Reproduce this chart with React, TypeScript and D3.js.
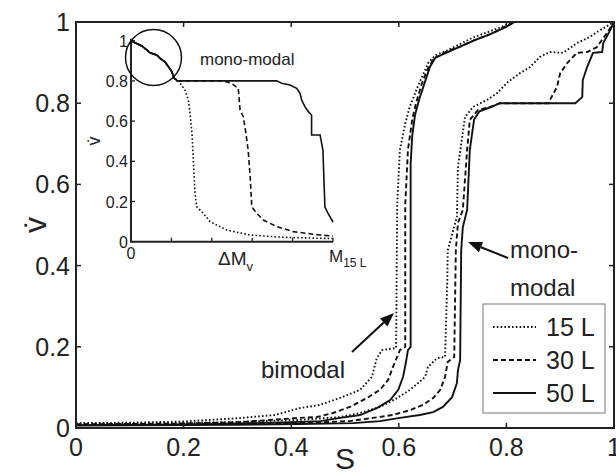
import * as d3 from "d3";
import { useEffect, useRef } from "react";

// main plot curves, [S, v]
const biDot15 = [[0,0.012],[0.1,0.013],[0.2,0.016],[0.3,0.024],[0.37,0.032],[0.416,0.049],[0.454,0.057],[0.491,0.074],[0.528,0.094],[0.55,0.126],[0.559,0.172],[0.569,0.192],[0.595,0.197],[0.597,0.55],[0.602,0.685],[0.612,0.75],[0.62,0.79],[0.635,0.84],[0.645,0.87],[0.655,0.9],[0.668,0.918],[0.69,0.93],[0.71,0.943],[0.735,0.96],[0.765,0.975],[0.795,0.99],[0.81,1]];
const biDash30 = [[0,0.009],[0.2,0.011],[0.3,0.014],[0.416,0.025],[0.448,0.027],[0.478,0.037],[0.509,0.052],[0.541,0.074],[0.565,0.094],[0.58,0.118],[0.589,0.15],[0.602,0.192],[0.612,0.2],[0.612,0.55],[0.617,0.685],[0.625,0.76],[0.632,0.8],[0.642,0.845],[0.652,0.88],[0.665,0.91],[0.69,0.928],[0.715,0.94],[0.74,0.955],[0.77,0.97],[0.8,0.99],[0.815,1]];
const biSolid50 = [[0,0.007],[0.2,0.009],[0.3,0.011],[0.416,0.015],[0.454,0.017],[0.491,0.025],[0.528,0.032],[0.559,0.049],[0.584,0.069],[0.599,0.094],[0.608,0.126],[0.613,0.16],[0.617,0.192],[0.622,0.2],[0.622,0.65],[0.625,0.72],[0.63,0.77],[0.638,0.81],[0.648,0.85],[0.658,0.89],[0.668,0.912],[0.69,0.925],[0.715,0.94],[0.74,0.955],[0.77,0.97],[0.8,0.988],[0.815,1]];
const monoDot15 = [[0,0.01],[0.2,0.012],[0.3,0.015],[0.416,0.02],[0.491,0.027],[0.528,0.037],[0.565,0.052],[0.597,0.074],[0.621,0.094],[0.636,0.111],[0.649,0.126],[0.654,0.15],[0.671,0.172],[0.686,0.175],[0.69,0.357],[0.691,0.438],[0.708,0.52],[0.71,0.643],[0.717,0.709],[0.723,0.766],[0.738,0.791],[0.764,0.808],[0.783,0.825],[0.801,0.85],[0.825,0.874],[0.844,0.889],[0.862,0.914],[0.881,0.926],[0.905,0.924],[0.931,0.948],[0.955,0.963],[0.974,0.98],[1,1]];
const monoDash30 = [[0,0.008],[0.2,0.009],[0.3,0.01],[0.416,0.012],[0.509,0.017],[0.552,0.025],[0.589,0.032],[0.621,0.044],[0.645,0.057],[0.664,0.074],[0.677,0.094],[0.686,0.126],[0.691,0.163],[0.703,0.175],[0.706,0.438],[0.71,0.505],[0.719,0.537],[0.727,0.685],[0.732,0.759],[0.747,0.783],[0.77,0.791],[0.788,0.8],[0.878,0.8],[0.881,0.808],[0.894,0.84],[0.9,0.874],[0.913,0.899],[0.931,0.924],[0.95,0.926],[0.968,0.938],[0.987,0.973],[1,1]];
const monoSolid50 = [[0,0.006],[0.2,0.007],[0.3,0.008],[0.416,0.01],[0.515,0.012],[0.565,0.017],[0.602,0.025],[0.639,0.032],[0.664,0.039],[0.682,0.052],[0.699,0.076],[0.708,0.111],[0.71,0.143],[0.714,0.167],[0.716,0.438],[0.719,0.495],[0.727,0.537],[0.732,0.685],[0.74,0.76],[0.75,0.78],[0.77,0.79],[0.788,0.8],[0.928,0.8],[0.941,0.815],[0.942,0.857],[0.95,0.889],[0.961,0.924],[0.978,0.926],[0.98,0.948],[0.993,0.98],[1,1]];

// inset curves, x as fraction of M15L
const insetCommon = [[0,1],[0.02,0.99],[0.053,0.974],[0.078,0.954],[0.094,0.94],[0.127,0.929],[0.144,0.912],[0.168,0.895],[0.185,0.871],[0.202,0.846],[0.213,0.813],[0.226,0.805]];
const insetDot15 = [[0.234,0.8],[0.267,0.755],[0.284,0.705],[0.292,0.639],[0.302,0.539],[0.31,0.373],[0.317,0.241],[0.325,0.174],[0.358,0.141],[0.391,0.1],[0.474,0.058],[0.59,0.033],[0.755,0.022],[0.936,0.017],[1,0.016]];
const insetDash30 = [[0.457,0.8],[0.498,0.788],[0.531,0.763],[0.54,0.655],[0.556,0.622],[0.569,0.539],[0.58,0.456],[0.59,0.323],[0.598,0.174],[0.622,0.141],[0.655,0.108],[0.721,0.075],[0.804,0.05],[0.936,0.033],[1,0.028]];
const insetSolid50 = [[0.721,0.8],[0.746,0.788],[0.787,0.78],[0.82,0.763],[0.837,0.738],[0.845,0.705],[0.861,0.672],[0.878,0.647],[0.894,0.63],[0.894,0.531],[0.936,0.531],[0.95,0.456],[0.96,0.172],[0.975,0.142],[1,0.098]];

const xTicks = [0, 0.2, 0.4, 0.6, 0.8, 1];
const yTicks = [0, 0.2, 0.4, 0.6, 0.8, 1];
const insetYTicks = [0, 0.2, 0.4, 0.6, 0.8, 1];
const insetXTicks = [0, 0.2, 0.4, 0.6, 0.8, 1];
const legendLabels = ["15 L", "30 L", "50 L"];
const dashes = ["1.6,2.2", "5,3", null];

const W = 616;
const H = 476;
const FONT = "Liberation Sans, Arial, sans-serif";

const App = () => {
  const ref = useRef(null);

  useEffect(() => {
    document.body.style.margin = "0";
    const svg = d3.select(ref.current);
    svg.selectAll("*").remove();

    const x = d3.scaleLinear().domain([0, 1]).range([76, 614]);
    const y = d3.scaleLinear().domain([0, 1]).range([428, 22]);

    const line = d3.line().x(d => x(d[0])).y(d => y(d[1]));
    const groups = [[biDot15, monoDot15], [biDash30, monoDash30], [biSolid50, monoSolid50]];
    groups.forEach((g, i) => {
      g.forEach(data => {
        svg.append("path")
          .attr("d", line(data))
          .attr("fill", "none")
          .attr("stroke", "#111")
          .attr("stroke-width", 1.9)
          .attr("stroke-dasharray", dashes[i]);
      });
    });

    // frame and inward ticks
    svg.append("rect")
      .attr("x", x(0)).attr("y", y(1))
      .attr("width", x(1) - x(0)).attr("height", y(0) - y(1))
      .attr("fill", "none").attr("stroke", "#222").attr("stroke-width", 2);
    const tl = 5;
    xTicks.forEach(t => {
      svg.append("line").attr("x1", x(t)).attr("x2", x(t)).attr("y1", y(0)).attr("y2", y(0) - tl).attr("stroke", "#222").attr("stroke-width", 1.5);
      svg.append("line").attr("x1", x(t)).attr("x2", x(t)).attr("y1", y(1)).attr("y2", y(1) + tl).attr("stroke", "#222").attr("stroke-width", 1.5);
      svg.append("text").attr("x", x(t)).attr("y", 456).attr("text-anchor", "middle")
        .attr("font-family", FONT).attr("font-size", 25).attr("fill", "#222").text(d3.format("~g")(t));
    });
    yTicks.forEach(t => {
      svg.append("line").attr("x1", x(0)).attr("x2", x(0) + tl).attr("y1", y(t)).attr("y2", y(t)).attr("stroke", "#222").attr("stroke-width", 1.5);
      svg.append("line").attr("x1", x(1)).attr("x2", x(1) - tl).attr("y1", y(t)).attr("y2", y(t)).attr("stroke", "#222").attr("stroke-width", 1.5);
      svg.append("text").attr("x", 70).attr("y", y(t) + 9).attr("text-anchor", "end")
        .attr("font-family", FONT).attr("font-size", 25).attr("fill", "#222").text(d3.format("~g")(t));
    });

    // axis titles
    svg.append("text").attr("x", 345).attr("y", 469).attr("text-anchor", "middle")
      .attr("font-family", FONT).attr("font-size", 30).attr("fill", "#222").text("S");
    svg.append("text").attr("transform", "translate(46,225) rotate(-90)").attr("text-anchor", "middle")
      .attr("font-family", FONT).attr("font-size", 32).attr("fill", "#222").text("v\u0307");

    // legend
    const lg = svg.append("g");
    lg.append("rect").attr("x", 483).attr("y", 304).attr("width", 122).attr("height", 109)
      .attr("fill", "white").attr("stroke", "#777").attr("stroke-width", 1);
    legendLabels.forEach((lab, i) => {
      const ly = 327 + i * 33;
      lg.append("line").attr("x1", 493).attr("x2", 536).attr("y1", ly).attr("y2", ly)
        .attr("stroke", "#111").attr("stroke-width", 1.9).attr("stroke-dasharray", dashes[i]);
      lg.append("text").attr("x", 546).attr("y", ly + 9).attr("font-family", FONT)
        .attr("font-size", 25).attr("fill", "#222").text(lab);
    });

    // annotations
    const arrow = (x1, y1, x2, y2, hl, hw) => {
      const a = Math.atan2(y2 - y1, x2 - x1);
      const bx = x2 - hl * Math.cos(a), by = y2 - hl * Math.sin(a);
      svg.append("line").attr("x1", x1).attr("y1", y1).attr("x2", bx).attr("y2", by)
        .attr("stroke", "#111").attr("stroke-width", 2);
      const px = -Math.sin(a) * hw / 2, py = Math.cos(a) * hw / 2;
      svg.append("path").attr("d", `M${x2},${y2}L${bx + px},${by + py}L${bx - px},${by - py}Z`).attr("fill", "#111");
    };
    svg.append("text").attr("x", 345).attr("y", 378).attr("text-anchor", "end")
      .attr("font-family", FONT).attr("font-size", 24).attr("fill", "#222").text("bimodal");
    arrow(352, 352, 394, 313, 14, 11);
    svg.append("text").attr("x", 510).attr("y", 258)
      .attr("font-family", FONT).attr("font-size", 24).attr("fill", "#222").text("mono-");
    svg.append("text").attr("x", 510).attr("y", 296)
      .attr("font-family", FONT).attr("font-size", 24).attr("fill", "#222").text("modal");
    arrow(508, 258, 468, 242, 14, 11);

    // inset
    const ix = d3.scaleLinear().domain([0, 1]).range([131, 333]);
    const iy = d3.scaleLinear().domain([0, 1]).range([241.7, 40.7]);
    const iline = d3.line().x(d => ix(d[0])).y(d => iy(d[1]));
    const plateau = [[0.226, 0.8]];
    [insetDot15, insetDash30, insetSolid50].forEach((data, i) => {
      svg.append("path")
        .attr("d", iline(insetCommon.concat(plateau, data)))
        .attr("fill", "none").attr("stroke", "#111").attr("stroke-width", 1.6)
        .attr("stroke-dasharray", dashes[i]);
    });
    svg.append("path").attr("d", iline(insetCommon)).attr("fill", "none").attr("stroke", "#111").attr("stroke-width", 1.6);
    svg.append("path").attr("d", `M${ix(0)},${iy(1) - 2}V${iy(0)}H${ix(1)}`)
      .attr("fill", "none").attr("stroke", "#222").attr("stroke-width", 2);
    insetYTicks.forEach(t => {
      svg.append("line").attr("x1", ix(0)).attr("x2", ix(0) + 4).attr("y1", iy(t)).attr("y2", iy(t)).attr("stroke", "#222").attr("stroke-width", 1.3);
      svg.append("text").attr("x", 128).attr("y", iy(t) + 6).attr("text-anchor", "end")
        .attr("font-family", FONT).attr("font-size", 16).attr("fill", "#222").text(d3.format("~g")(t));
    });
    insetXTicks.forEach(t => {
      svg.append("line").attr("x1", ix(t)).attr("x2", ix(t)).attr("y1", iy(0)).attr("y2", iy(0) - 4).attr("stroke", "#222").attr("stroke-width", 1.3);
    });
    svg.append("text").attr("x", ix(0)).attr("y", 259).attr("text-anchor", "middle")
      .attr("font-family", FONT).attr("font-size", 16).attr("fill", "#222").text("0");
    const dm = svg.append("text").attr("x", 218).attr("y", 265)
      .attr("font-family", FONT).attr("font-size", 19).attr("fill", "#222");
    dm.append("tspan").text("\u0394M");
    dm.append("tspan").attr("dy", 6).attr("font-size", 13).text("v");
    const m15 = svg.append("text").attr("x", 329).attr("y", 262)
      .attr("font-family", FONT).attr("font-size", 17).attr("fill", "#222");
    m15.append("tspan").text("M");
    m15.append("tspan").attr("dy", 5).attr("font-size", 12).text("15 L");
    svg.append("text").attr("transform", "translate(100,141) rotate(-90)").attr("text-anchor", "middle")
      .attr("font-family", FONT).attr("font-size", 18).attr("fill", "#222").text("v\u0307");
    svg.append("circle").attr("cx", 153.5).attr("cy", 57.5).attr("r", 28)
      .attr("fill", "none").attr("stroke", "#111").attr("stroke-width", 1.5);
    svg.append("text").attr("x", 200).attr("y", 65)
      .attr("font-family", FONT).attr("font-size", 17).attr("fill", "#222").text("mono-modal");
  }, []);

  return <svg ref={ref} width={W} height={H} style={{ display: "block", background: "white" }}></svg>;
};

export default App;
